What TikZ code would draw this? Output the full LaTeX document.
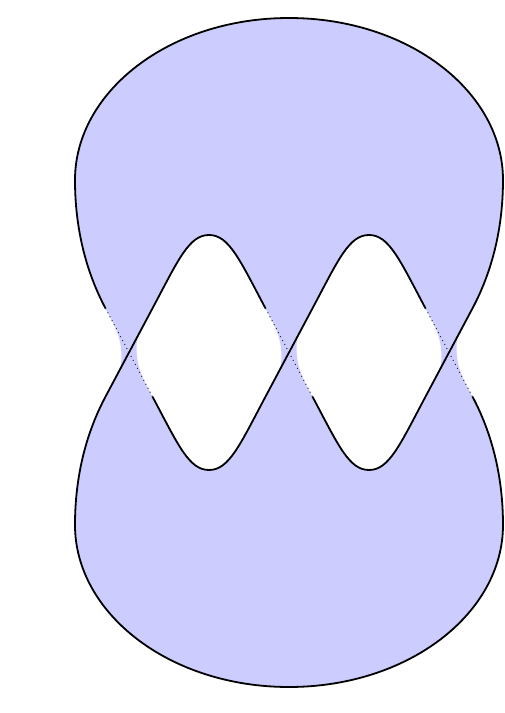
\documentclass[tikz,border=0pt]{standalone}
\definecolor{azulClaro}{HTML}{CCCCFF}
\definecolor{grisP}{HTML}{2A2A40}

\begin{document}
\begin{tikzpicture}[x=1pt,y=1pt,
  hebra/.style={line width=1.8pt,line join=round},
  punteado/.style={grisP,line width=1pt,dash pattern=on 1pt off 3.5pt}]
  \useasboundingbox (-289,-360.5) rectangle (215,352.5);
  % superficie (banda con tres medias vueltas)
  \fill[azulClaro,even odd rule]
    (-183.5,44.15) .. controls +(118:40) and +(0,-50) .. (-214,172.5)
    .. controls +(0,88) and +(-120,0) .. (0,334.5)
    .. controls +(120,0) and +(0,88) .. (214,172.5)
    .. controls +(0,-50) and +(62:40) .. (183.5,44.15)
    -- (176,30) to[out=242,in=90] (167.5,5) to[out=-90,in=118] (183.5,-44.15)
    .. controls +(-62:40) and +(0,50) .. (214,-172.5)
    .. controls +(0,-88) and +(120,0) .. (0,-334.5)
    .. controls +(-120,0) and +(0,-88) .. (-214,-172.5)
    .. controls +(0,50) and +(242:40) .. (-183.5,-44.15)
    -- (-176,-30) to[out=62,in=-90] (-167.5,-5) to[out=90,in=-62] (-183.5,44.15)
    -- cycle
    \foreach \x in {-80,80}{
      ({\x-56.5},44.15) .. controls +(62:55) and +(-20,0) .. (\x,117.5)
      .. controls +(20,0) and +(118:55) .. ({\x+56.5},44.15)
      to[out=-62,in=90] ({\x+72.5},-5) to[out=-90,in=62] ({\x+64},-30)
      -- ({\x+56.5},-44.15) .. controls +(242:55) and +(20,0) .. (\x,-117.5)
      .. controls +(-20,0) and +(-62:55) .. ({\x-56.5},-44.15)
      to[out=118,in=-90] ({\x-72.5},5) to[out=90,in=242] ({\x-64},30)
      -- cycle};
  % tramos por debajo
  \foreach \c in {-160,0,160}
    \draw[punteado] ({\c-23.5},44.15) -- ({\c+23.5},-44.15);
  % hebras
  \draw[hebra] (-183.5,44.15) .. controls +(118:40) and +(0,-50) .. (-214,172.5)
    .. controls +(0,88) and +(-120,0) .. (0,334.5)
    .. controls +(120,0) and +(0,88) .. (214,172.5)
    .. controls +(0,-50) and +(62:40) .. (183.5,44.15)
    -- (136.5,-44.15) .. controls +(242:55) and +(20,0) .. (80,-117.5)
    .. controls +(-20,0) and +(-62:55) .. (23.5,-44.15);
  \draw[hebra] (-23.5,44.15) .. controls +(118:55) and +(20,0) .. (-80,117.5)
    .. controls +(-20,0) and +(62:55) .. (-136.5,44.15)
    -- (-183.5,-44.15) .. controls +(242:40) and +(0,50) .. (-214,-172.5)
    .. controls +(0,-88) and +(-120,0) .. (0,-334.5)
    .. controls +(120,0) and +(0,-88) .. (214,-172.5)
    .. controls +(0,50) and +(-62:40) .. (183.5,-44.15);
  \draw[hebra] (136.5,44.15) .. controls +(118:55) and +(20,0) .. (80,117.5)
    .. controls +(-20,0) and +(62:55) .. (23.5,44.15)
    -- (-23.5,-44.15) .. controls +(242:55) and +(20,0) .. (-80,-117.5)
    .. controls +(-20,0) and +(-62:55) .. (-136.5,-44.15);
\end{tikzpicture}
\end{document}
